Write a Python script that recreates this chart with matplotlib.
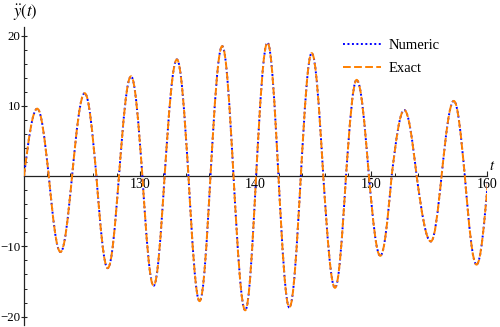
import matplotlib.pyplot as plt
from matplotlib.path import Path
from matplotlib.patches import PathPatch
from matplotlib.lines import Line2D

plt.rcParams['font.family'] = ['Liberation Serif', 'DejaVu Serif']
plt.rcParams['mathtext.fontset'] = 'stix'

BLUE = '#0000ff'
ORANGE = '#ff8000'
AXIS = '#222222'

# zero crossings and peaks of y''(t)
t_key = [120.0, 121.14, 122.14, 123.15, 124.15, 125.24, 126.25, 127.23, 128.2,
         129.24, 130.22, 131.19, 132.14, 133.2, 134.2, 135.16, 136.1, 137.11,
         138.09, 139.1, 140.04, 141.02, 141.97, 142.91, 143.9, 144.84, 145.84,
         146.85, 147.8, 148.72, 149.78, 150.76, 151.74, 152.83, 153.9, 155.13,
         156.05, 157.11, 158.06, 159.07, 160.09]
y_key = [0, 9.6, 0, -10.8, 0, 11.8, 0, -13.1, 0,
         14.2, 0, -15.6, 0, 16.6, 0, -17.8, 0, 18.5,
         0, -19.1, 0, 19.0, 0, -18.7, 0, 17.5, 0,
         -15.9, 0, 13.7, 0, -11.35, 0, 9.4, 0, -9.3,
         0, 10.7, 0, -12.6, 0]

x_major = [130, 140, 150, 160]
y_major = [-20, -10, 10, 20]
labels = ['Numeric', 'Exact']


def smooth_path(ts, ys):
    # cubic pieces: flat at each peak, steep through each zero
    verts = [(ts[0], ys[0])]
    codes = [Path.MOVETO]
    for t0, y0, t1, y1 in zip(ts[:-1], ys[:-1], ts[1:], ys[1:]):
        dt, dy = t1 - t0, y1 - y0
        if y0 == 0:
            c1 = (t0 + 0.35 * dt, y0 + 0.55 * dy)
            c2 = (t0 + 0.65 * dt, y1)
        else:
            c1 = (t0 + 0.35 * dt, y0)
            c2 = (t0 + 0.65 * dt, y0 + 0.45 * dy)
        verts += [c1, c2, (t1, y1)]
        codes += [Path.CURVE4] * 3
    return Path(verts, codes)


LW = 1.4
NUM_LS = (0, (1, 1.3))
EX_LS = (0, (4, 1.7))

fig = plt.figure(figsize=(5, 3.27), dpi=100)
ax = fig.add_axes([0.048, 0.006, 0.9266, 0.912])

path = smooth_path(t_key, y_key)
ax.add_patch(PathPatch(path, fill=False, edgecolor=BLUE, lw=LW, linestyle=NUM_LS, zorder=3))
ax.add_patch(PathPatch(path, fill=False, edgecolor=ORANGE, lw=LW, linestyle=EX_LS, zorder=4))

ax.set_xlim(120, 160)
ax.set_ylim(-21.2, 21.25)

for s in ['top', 'right']:
    ax.spines[s].set_visible(False)
ax.spines['bottom'].set_position(('data', 0))
ax.spines['left'].set_position(('data', 120))
for s in ['bottom', 'left']:
    ax.spines[s].set_linewidth(0.9)
    ax.spines[s].set_color(AXIS)

ax.set_xticks(x_major)
ax.set_xticks([v for v in range(122, 160, 2) if v % 10], minor=True)
ax.set_yticks(y_major)
ax.set_yticks([v for v in range(-20, 21, 2) if v % 10], minor=True)
ax.set_yticklabels(['\u221220', '\u221210', '10', '20'])

ax.tick_params(axis='x', which='major', direction='in', length=3.5, width=0.8,
               color=AXIS, labelsize=10, pad=1.5)
ax.tick_params(axis='x', which='minor', direction='in', length=2, width=0.7, color=AXIS)
ax.tick_params(axis='y', which='major', direction='inout', length=4.5, width=0.8,
               color=AXIS, labelsize=9.3, pad=0.3)
ax.tick_params(axis='y', which='minor', direction='in', length=2, width=0.7, color=AXIS)

fig.text(0.05, 0.962, r'$\ddot{y}(t)$', fontsize=12, ha='center', va='center')
ax.annotate(r'$t$', xy=(160, 0), xytext=(1, 2), textcoords='offset points',
            fontsize=10.5, ha='left', va='bottom')

handles = [Line2D([], [], color=BLUE, lw=LW, linestyle=NUM_LS),
           Line2D([], [], color=ORANGE, lw=LW, linestyle=EX_LS)]
ax.legend(handles, labels, loc='upper left', bbox_to_anchor=(0.686, 0.88),
          bbox_transform=fig.transFigure, frameon=False, fontsize=10.5,
          handlelength=2.6, handletextpad=0.5, labelspacing=0.62,
          borderpad=0, borderaxespad=0)

fig.savefig('out.png', dpi=100)
